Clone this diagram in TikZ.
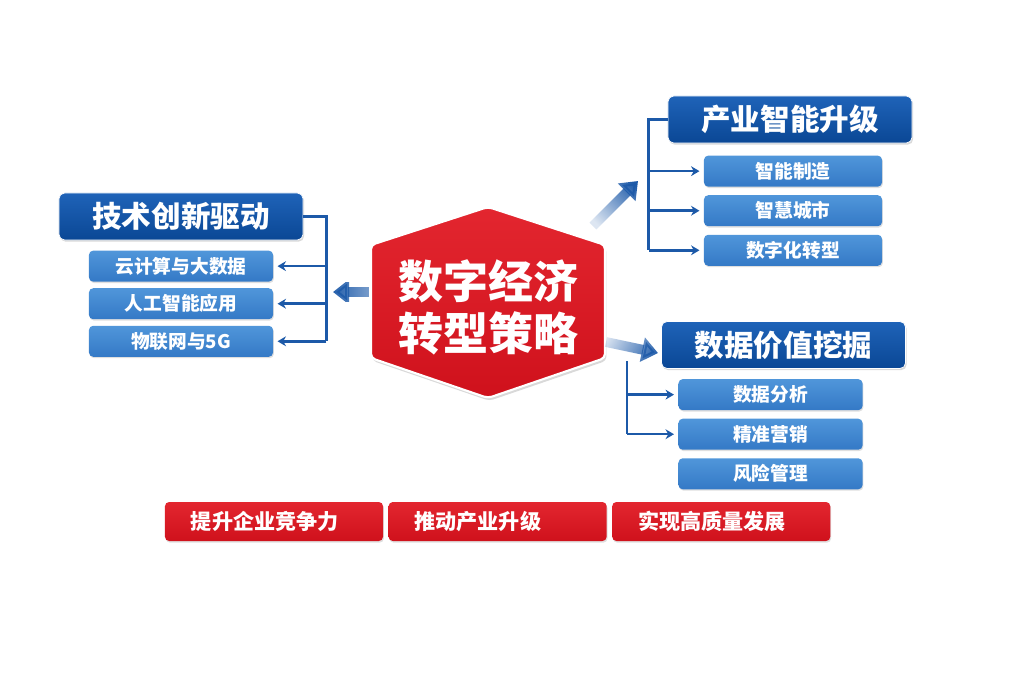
\documentclass[tikz,border=0pt]{standalone}
\usepackage{fontspec}
\setmainfont{Noto Sans CJK SC}
\usepackage{xcolor}
\usepackage{tikz}
\usetikzlibrary{shapes.geometric, arrows, arrows.meta, positioning, calc, shadows, fadings}

\definecolor{navy}{HTML}{0A4795}
\definecolor{navylight}{HTML}{1F63B8}
\definecolor{skyblue}{HTML}{3479C6}
\definecolor{skylight}{HTML}{5096DA}
\definecolor{linkblue}{HTML}{1C59A8}
\definecolor{brandred}{HTML}{CF111C}
\definecolor{brandredlight}{HTML}{E3262F}

\tikzfading[name=fade tail, left color=transparent!0, right color=transparent!85]
\tikzfading[name=fade soft, left color=transparent!0, right color=transparent!45]

\begin{document}
\begin{tikzpicture}[
    x=0.025cm, y=0.025cm,
    node distance=0.15cm,
    titlebox/.style={draw=white, line width=0.5pt, rectangle, rounded corners=4pt, minimum height=1.175cm,
      minimum width=6.1cm, inner sep=0pt, top color=navylight, bottom color=navy, text=white,
      font=\bfseries\fontsize{21}{24}\selectfont,
      drop shadow={opacity=0.3, shadow xshift=0.8pt, shadow yshift=-1.2pt}},
    subbox/.style={rectangle, rounded corners=3pt, minimum height=0.775cm, minimum width=4.6cm,
      inner sep=0pt, top color=skylight, bottom color=skyblue, text=white,
      font=\bfseries\fontsize{13.3}{16}\selectfont,
      drop shadow={opacity=0.25, shadow xshift=0.6pt, shadow yshift=-1pt}},
    goalbox/.style={rectangle, rounded corners=3pt, minimum height=0.975cm, text width=4.15cm,
      inner xsep=0.65cm, inner ysep=0pt, align=left, top color=brandredlight, bottom color=brandred,
      text=white, font=\bfseries\fontsize{15}{18}\selectfont,
      drop shadow={opacity=0.25, shadow xshift=0.6pt, shadow yshift=-1.2pt}},
    coretext/.style={align=center, text=white, font=\bfseries\fontsize{32}{37}\selectfont},
    link/.style={line width=1.8pt, draw=linkblue},
    arrow/.style={link, -{Stealth[length=6pt, width=7pt]}, shorten >=3pt},
    bigarrow/.style={line width=7pt, draw=linkblue, -{Triangle[length=0.4cm, width=0.6cm]},
      path fading=fade tail}
]
\useasboundingbox (0,0) rectangle (1024,-683);

\shade[top color=brandredlight, bottom color=brandred, draw=white, line width=1.5pt, rounded corners=3pt,
  drop shadow={opacity=0.3, shadow xshift=1pt, shadow yshift=-2pt}]
  (488,-207) coordinate (hn) -- (605,-245) coordinate (hne) -- (605,-358) coordinate (hse)
  -- (488,-398) coordinate (hs) -- (371,-358) coordinate (hsw) -- (371,-245) coordinate (hnw) -- cycle;
\node[coretext] (core) at (488,-307) {数字经济\\转型策略};

\node[titlebox] (tech) at (181,-216.5) {技术创新驱动};
\node[subbox, below=0.25cm of tech] (tech1) {云计算与大数据};
\node[subbox, below=of tech1] (tech2) {人工智能应用};
\node[subbox, below=of tech2] (tech3) {物联网与5G};

\node[titlebox] (ind) at (790,-119.5) {产业智能升级};
\node[subbox, minimum width=4.45cm, below=0.3cm of ind, xshift=0.075cm] (ind1) {智能制造};
\node[subbox, minimum width=4.45cm, below=0.2cm of ind1] (ind2) {智慧城市};
\node[subbox, minimum width=4.45cm, below=0.2cm of ind2] (ind3) {数字化转型};

\node[titlebox] (data) at (783.5,-345) {数据价值挖掘};
\node[subbox, below=0.25cm of data, xshift=-0.325cm] (data1) {数据分析};
\node[subbox, below=0.2cm of data1] (data2) {精准营销};
\node[subbox, below=0.2cm of data2] (data3) {风险管理};

\node[goalbox] (goal1) at (274,-521.5) {提升企业竞争力};
\node[goalbox, right=0.125cm of goal1] (goal2) {推动产业升级};
\node[goalbox, right=0.125cm of goal2] (goal3) {实现高质量发展};

\coordinate (hexw) at (369,-292);
\coordinate (techin) at (333,-292);
\coordinate (hexne) at (593,-226);
\coordinate (indin) at (638,-181);
\coordinate (hexe) at (606,-342);
\coordinate (datain) at (658,-353);
\draw[bigarrow, path fading=fade soft] (hexw) -- (techin);
\draw[bigarrow, fading angle=225] (hexne) -- (indin);
\draw[bigarrow, fading angle=168] (hexe) -- (datain);

\draw[link] (tech.east) -- ++(23,0) coordinate (tbus) -- (tbus |- tech3.east);
\foreach \n in {tech1, tech2, tech3}
  \draw[arrow] (tbus |- \n.east) -- (\n.east);

\draw[link] (ind.west) -- ++(-19,0) coordinate (ibus) -- (ibus |- ind3.west);
\foreach \n in {ind1, ind2, ind3}
  \draw[arrow] (ibus |- \n.west) -- (\n.west);

\coordinate (dbus) at (627,-361);
\draw[link] (dbus) -- (dbus |- data2.west);
\foreach \n in {data1, data2}
  \draw[arrow] (dbus |- \n.west) -- (\n.west);
\end{tikzpicture}
\end{document}
